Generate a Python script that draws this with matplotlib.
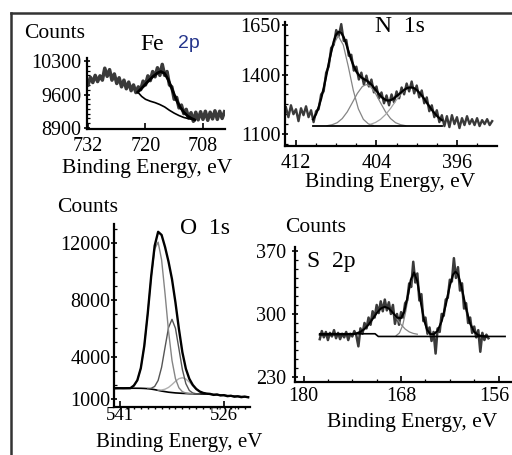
import matplotlib
matplotlib.use('Agg')
import matplotlib.pyplot as plt
from matplotlib.ticker import MultipleLocator
from matplotlib.lines import Line2D
from matplotlib.transforms import ScaledTranslation

plt.rcParams['font.family'] = ['Liberation Serif', 'DejaVu Serif']

# ---------------- Fe 2p ----------------
fe_ev = [732.0, 731.5, 731.0, 730.5, 730.0, 729.5, 729.0, 728.5, 728.0, 727.5,
         727.0, 726.5, 726.0, 725.5, 725.0, 724.5, 724.0, 723.5, 723.0, 722.5,
         722.0, 721.5, 721.0, 720.5, 720.0, 719.5, 719.0, 718.5, 718.0, 717.5,
         717.0, 716.5, 716.0, 715.5, 715.0, 714.5, 714.0, 713.5, 713.0, 712.5,
         712.0, 711.5, 711.0, 710.5, 710.0, 709.5, 709.0, 708.5, 708.0, 707.5,
         707.0, 706.5, 706.0, 705.5, 705.0, 704.5, 704.0, 703.5]
fe_counts = [9800, 9960, 9850, 10000, 9870, 9990, 9900, 10150, 9980, 10120,
             9900, 10030, 9830, 9950, 9760, 9900, 9720, 9860, 9680, 9800,
             9640, 9760, 9700, 9880, 9800, 9990, 9890, 10080, 9970, 10160,
             10000, 10230, 10000, 10080, 9800, 9760, 9500, 9540, 9320, 9380,
             9200, 9290, 9110, 9220, 9040, 9230, 9070, 9240, 9080, 9250,
             9060, 9230, 9090, 9260, 9080, 9250, 9100, 9240]
fe_fit_ev = [721.6, 720.5, 719.5, 718.5, 717.5, 716.8, 716.0, 715.2, 714.4,
             713.6, 712.8, 712.0, 711.2, 710.4, 709.7]
fe_fit = [9650, 9760, 9870, 9970, 10050, 10080, 10040, 9900, 9700,
          9500, 9340, 9230, 9150, 9100, 9070]
fe_bg_ev = [721.6, 720.8, 720.0, 719.0, 718.0, 717.0, 716.0, 715.0, 714.0,
            713.0, 712.0, 711.0, 710.0, 709.7]
fe_bg = [9650, 9560, 9500, 9460, 9430, 9390, 9340, 9270, 9210,
         9160, 9120, 9095, 9075, 9067]
fe_xticks = [732, 720, 708]
fe_yticks = [8900, 9600, 10300]

# ---------------- N 1s ----------------
n_ev = [413.0, 412.75, 412.5, 412.25, 412.0, 411.75, 411.5, 411.25, 411.0, 410.75,
        410.5, 410.25, 410.0, 409.75, 409.5, 409.25, 409.0, 408.75, 408.5, 408.25,
        408.0, 407.75, 407.5, 407.25, 407.0, 406.75, 406.5, 406.25, 406.0, 405.75,
        405.5, 405.25, 405.0, 404.75, 404.5, 404.25, 404.0, 403.75, 403.5, 403.25,
        403.0, 402.75, 402.5, 402.25, 402.0, 401.75, 401.5, 401.25, 401.0, 400.75,
        400.5, 400.25, 400.0, 399.75, 399.5, 399.25, 399.0, 398.75, 398.5, 398.25,
        398.0, 397.75, 397.5, 397.25, 397.0, 396.75, 396.5, 396.25, 396.0, 395.75,
        395.5, 395.25, 395.0, 394.75, 394.5, 394.25, 394.0, 393.75, 393.5, 393.25,
        393.0, 392.75, 392.5]
n_counts = [1235, 1185, 1245, 1200, 1225, 1165, 1230, 1195, 1240, 1185,
            1220, 1160, 1215, 1225, 1300, 1315, 1410, 1440, 1535, 1550,
            1625, 1595, 1655, 1570, 1575, 1495, 1500, 1420, 1440, 1375,
            1410, 1350, 1395, 1340, 1375, 1310, 1340, 1280, 1310, 1255,
            1295, 1245, 1300, 1260, 1315, 1280, 1335, 1300, 1355, 1315,
            1365, 1305, 1345, 1285, 1320, 1255, 1285, 1215, 1245, 1185,
            1220, 1160, 1195, 1140, 1190, 1135, 1195, 1150, 1185, 1130,
            1180, 1145, 1190, 1150, 1175, 1145, 1180, 1140, 1170, 1150,
            1175, 1145, 1165]
n_fit_ev = [410.3, 410.0, 409.75, 409.5, 409.25, 409.0, 408.75, 408.5, 408.25, 408.0,
            407.75, 407.5, 407.25, 407.0, 406.75, 406.5, 406.25, 406.0, 405.75, 405.5,
            405.25, 405.0, 404.75, 404.5, 404.25, 404.0, 403.75, 403.5, 403.25, 403.0,
            402.75, 402.5, 402.25, 402.0, 401.75, 401.5, 401.25, 401.0, 400.75, 400.5,
            400.25, 400.0, 399.75, 399.5, 399.25, 399.0, 398.75, 398.5, 398.25, 398.0,
            397.75, 397.5]
n_fit = [1174, 1201, 1235, 1278, 1331, 1391, 1455, 1514, 1567, 1603,
         1616, 1611, 1588, 1554, 1513, 1474, 1442, 1415, 1398, 1386,
         1377, 1371, 1361, 1349, 1334, 1318, 1302, 1287, 1277, 1270,
         1269, 1273, 1280, 1292, 1301, 1312, 1322, 1331, 1334, 1335,
         1331, 1322, 1309, 1294, 1277, 1258, 1240, 1222, 1206, 1192,
         1180, 1170]
n_c1_ev = [410.3, 409.8, 409.3, 408.8, 408.3, 407.8, 407.3, 406.8, 406.3, 405.8, 405.3, 404.8, 404.3]
n_c1 = [1174, 1227, 1320, 1441, 1550, 1595, 1550, 1441, 1320, 1227, 1174, 1151, 1143]
n_c2_ev = [408.9, 408.4, 407.9, 407.4, 406.9, 406.4, 405.9, 405.4, 405.0, 404.6, 404.1,
           403.6, 403.1, 402.6, 402.1, 401.6, 401.1]
n_c2 = [1142, 1147, 1157, 1178, 1212, 1258, 1305, 1340, 1350, 1340, 1305,
        1258, 1212, 1178, 1157, 1147, 1142]
n_c3_ev = [404.6, 404.1, 403.6, 403.1, 402.6, 402.1, 401.6, 401.1, 400.6, 400.1,
           399.6, 399.1, 398.6, 398.1, 397.5]
n_c3 = [1149, 1158, 1174, 1198, 1229, 1266, 1300, 1326, 1335, 1326,
        1300, 1266, 1229, 1198, 1170]
n_base_ev = [410.3, 397.5]
n_base = [1140, 1140]
n_xticks = [412, 404, 396]
n_yticks = [1100, 1400, 1650]

# ---------------- O 1s ----------------
o_ev = [541.9, 541.5, 541.0, 540.5, 540.0, 539.5, 539.0, 538.5, 538.0, 537.5,
        537.0, 536.5, 536.0, 535.5, 535.0, 534.5, 534.0, 533.5, 533.0, 532.5,
        532.0, 531.5, 531.0, 530.5, 530.0, 529.5, 529.0, 528.5, 528.0, 527.5,
        527.0, 526.5, 526.0, 525.5, 525.0, 524.5, 524.0, 523.5, 523.0, 522.5]
o_counts = [1755, 1760, 1762, 1758, 1762, 1765, 1950, 2325, 3175, 4745,
            7046, 9682, 11817, 12804, 12582, 11728, 10695, 9460, 7813, 5945,
            4297, 3140, 2427, 1992, 1708, 1529, 1429, 1380, 1360, 1290,
            1320, 1250, 1270, 1200, 1230, 1160, 1190, 1130, 1170, 1120]
o_bg_ev = [541.9, 539.0, 538.5, 538.0, 537.5, 537.0, 536.5, 536.0, 535.5, 535.0,
           534.5, 534.0, 533.5, 533.0, 532.5, 532.0, 531.5, 531.0, 530.5, 530.0,
           529.5, 529.0, 528.5, 527.0, 525.0, 522.5]
o_bg = [1755, 1760, 1758, 1755, 1745, 1730, 1700, 1660, 1610, 1560,
        1520, 1480, 1455, 1430, 1415, 1400, 1388, 1375, 1368, 1360,
        1356, 1352, 1350, 1300, 1215, 1140]
o_c1_ev = [539.0, 538.5, 538.0, 537.5, 537.0, 536.5, 536.0, 535.5, 535.0, 534.5,
           534.0, 533.5, 533.0, 532.5, 532.0, 531.5, 531.0, 530.5]
o_c1 = [1950, 2325, 3175, 4745, 7045, 9625, 11590, 12075, 10825, 8420,
        5798, 3725, 2435, 1788, 1517, 1418, 1382, 1370]
o_c2_ev = [537.0, 536.5, 536.0, 535.5, 535.0, 534.5, 534.0, 533.5, 533.0, 532.5,
           532.0, 531.5, 531.0, 530.5, 530.0, 529.5]
o_c2 = [1741, 1757, 1887, 2310, 3240, 4655, 6040, 6625, 5990, 4550,
        3080, 2088, 1602, 1425, 1371, 1358]
o_c3_ev = [535.5, 535.0, 534.5, 534.0, 533.5, 533.0, 532.5, 532.0, 531.5, 531.0,
           530.5, 530.0, 529.5, 529.0, 528.5]
o_c3 = [1639, 1637, 1693, 1817, 2020, 2248, 2437, 2500, 2410, 2193,
        1933, 1697, 1529, 1429, 1380]
o_xticks = [541, 526]
o_yticks = [1000, 4000, 8000, 12000]

# ---------------- S 2p ----------------
s_ev = [178.0, 177.75, 177.5, 177.25, 177.0, 176.75, 176.5, 176.25, 176.0, 175.75,
        175.5, 175.25, 175.0, 174.75, 174.5, 174.25, 174.0, 173.75, 173.5, 173.25,
        173.0, 172.75, 172.5, 172.25, 172.0, 171.75, 171.5, 171.25, 171.0, 170.75,
        170.5, 170.25, 170.0, 169.75, 169.5, 169.25, 169.0, 168.75, 168.5, 168.25,
        168.0, 167.75, 167.5, 167.25, 167.0, 166.75, 166.5, 166.25, 166.0, 165.75,
        165.5, 165.25, 165.0, 164.75, 164.5, 164.25, 164.0, 163.75, 163.5, 163.25,
        163.0, 162.75, 162.5, 162.25, 162.0, 161.75, 161.5, 161.25, 161.0, 160.75,
        160.5, 160.25, 160.0, 159.75, 159.5, 159.25, 159.0, 158.75, 158.5, 158.25,
        158.0, 157.75, 157.5, 157.25]
s_counts = [272, 281, 274, 280, 271, 279, 275, 282, 273, 279,
            272, 278, 274, 280, 271, 278, 275, 281, 276, 264,
            284, 278, 290, 284, 296, 288, 303, 296, 310, 301,
            314, 303, 316, 304, 313, 300, 310, 289, 300, 288,
            302, 296, 312, 315, 334, 330, 358, 335, 345, 315,
            322, 292, 296, 278, 285, 270, 280, 256, 284, 280,
            300, 298, 316, 318, 338, 336, 362, 340, 352, 326,
            334, 306, 312, 290, 296, 279, 286, 274, 282, 258,
            279, 271, 277, 273]
s_fit_ev = [178.0, 174.0, 173.5, 173.0, 172.5, 172.0, 171.5, 171.0, 170.5, 170.0,
            169.5, 169.0, 168.5, 168.0, 167.6, 167.2, 166.8, 166.4, 166.0, 165.6,
            165.2, 164.8, 164.4, 164.0, 163.5, 163.0, 162.5, 162.0, 161.6, 161.3,
            161.0, 160.6, 160.0, 159.5, 159.0, 158.5, 158.0, 157.5]
s_fit = [277, 277.5, 278.4, 280.1, 283.3, 288.2, 294.5, 301, 306.1, 308,
         306.1, 301.2, 295.9, 295.4, 302.6, 318.8, 338, 346.1, 336.2, 314.6,
         294.5, 282.4, 277.6, 277.3, 281.4, 292, 310, 331.4, 343.8, 347,
         343.8, 331.4, 306, 289.3, 280.1, 276.4, 275.3, 275]
s_ca_ev = [173.5, 173.0, 172.5, 172.0, 171.5, 171.0, 170.5, 170.0, 169.5, 169.0,
           168.5, 168.0, 167.5, 167.0, 166.5, 166.0]
s_ca = [278.4, 280.1, 283.3, 288.2, 294.5, 301, 306.1, 308, 306.1, 301,
        294.5, 288.2, 283.3, 280.1, 278.4, 277.5]
s_cb_ev = [168.6, 168.2, 167.8, 167.4, 167.0, 166.6, 166.4, 166.2, 165.8, 165.4, 165.0, 164.6, 164.2]
s_cb = [275.9, 278.9, 287.3, 303.8, 325.8, 342.5, 345, 342.5, 325.8, 303.8, 287.3, 278.9, 275.9]
s_cc_ev = [164.3, 163.8, 163.3, 162.8, 162.3, 161.8, 161.3, 160.8, 160.3, 159.8, 159.3, 158.8, 158.3]
s_cc = [275.8, 278.2, 284.7, 298.4, 318.7, 338.5, 347, 338.5, 318.7, 298.4, 284.7, 278.2, 275.8]
s_base_ev = [178.0, 171.2, 170.8, 155.2]
s_base = [278, 278, 275, 275]
s_xticks = [180, 168, 156]
s_yticks = [230, 300, 370]

# ---------------- figure ----------------
W, H = 512, 455
fig = plt.figure(figsize=(W / 100, H / 100), dpi=100)


def rect(x0, y0, x1, y1):
    return [x0 / W, 1 - y1 / H, (x1 - x0) / W, (y1 - y0) / H]


def ftext(x, y, s, **kw):
    fig.text(x / W, 1 - y / H, s, ha=kw.pop('ha', 'center'), va=kw.pop('va', 'center'), **kw)


def style(ax, xlim, ylim, xt, yt, xmin, ymin, xpad, ypad, xdir='in', xsize=14.5):
    ax.set_xlim(*xlim)
    ax.set_ylim(*ylim)
    ax.patch.set_alpha(0)
    for s in ['top', 'right']:
        ax.spines[s].set_visible(False)
    for s in ['left', 'bottom']:
        ax.spines[s].set_linewidth(1.6)
    ax.set_xticks(xt)
    ax.set_xticklabels([str(v) for v in xt])
    ax.set_yticks(yt)
    ax.set_yticklabels([str(v) for v in yt])
    if xmin:
        ax.xaxis.set_minor_locator(MultipleLocator(xmin))
    if ymin:
        ax.yaxis.set_minor_locator(MultipleLocator(ymin))
    ax.tick_params(axis='x', which='major', direction=xdir, length=4, width=1.2,
                   labelsize=xsize, pad=xpad)
    ax.tick_params(axis='x', which='minor', direction=xdir, length=2.5, width=0.9)
    ax.tick_params(axis='y', which='major', direction='inout', length=5, width=1.2,
                   labelsize=14.5, pad=ypad)
    ax.tick_params(axis='y', which='minor', direction='in', length=2.5, width=0.9)


DATA = '#3a3a3a'
COMP = '#858585'

# Fe
ax = fig.add_axes(rect(87, 58, 225, 129))
ax.plot(fe_ev, fe_counts, color=DATA, lw=2.5)
ax.plot(fe_bg_ev, fe_bg, color='black', lw=1.2)
ax.plot(fe_fit_ev, fe_fit, color='black', lw=2.0)
style(ax, (732.21, 703.4), (8879, 10363), fe_xticks, fe_yticks, None, 100, 5.5, 1.5)

# N
ax = fig.add_axes(rect(285, 22, 497, 146))
ax.plot(n_ev, n_counts, color=DATA, lw=1.7)
ax.plot(n_c1_ev, n_c1, color=COMP, lw=0.9)
ax.plot(n_c2_ev, n_c2, color=COMP, lw=0.9)
ax.plot(n_c3_ev, n_c3, color='#a5a5a5', lw=0.9)
ax.plot(n_fit_ev, n_fit, color='black', lw=1.6)
ax.plot(n_base_ev, n_base, color='black', lw=1.3)
style(ax, (413.09, 392.02), (1039.4, 1665.6), n_xticks, n_yticks, 2, 50, 5.5, 0.5)

# O
ax = fig.add_axes(rect(114, 224, 250, 407))
ax.plot(o_bg_ev, o_bg, color='black', lw=1.2)
ax.plot(o_c3_ev, o_c3, color='#b0b0b0', lw=1.0)
ax.plot(o_c2_ev, o_c2, color='#555555', lw=1.0)
ax.plot(o_c1_ev, o_c1, color=COMP, lw=1.0)
ax.plot(o_ev, o_counts, color='black', lw=1.7)
style(ax, (541.87, 522.24), (435, 13355), o_xticks, o_yticks, 1, 1000, 0.0, 0.0,
      xdir='in', xsize=13.5)
ax.tick_params(axis='x', which='minor', direction='out', length=1.5, width=1.0)

# S
ax = fig.add_axes(rect(295, 247, 512, 382))
ax.plot(s_ev, s_counts, color=DATA, lw=1.8)
ax.plot(s_ca_ev, s_ca, color=COMP, lw=0.9)
ax.plot(s_cb_ev, s_cb, color=COMP, lw=0.9)
ax.plot(s_cc_ev, s_cc, color=COMP, lw=0.9)
ax.plot(s_fit_ev, s_fit, color='black', lw=1.5)
ax.plot(s_base_ev, s_base, color='black', lw=1.2)
style(ax, (181.05, 154.35), (224.4, 374.4), s_xticks, s_yticks, 3, 10, 3.5, 4.0)
for lab in ax.get_xticklabels():
    if lab.get_text() == '156':
        lab.set_transform(lab.get_transform() + ScaledTranslation(-3 / 72, 0, fig.dpi_scale_trans))

# texts
LAB = 15.5
ftext(55, 34, 'Counts', fontsize=LAB)
ftext(88, 208, 'Counts', fontsize=LAB)
ftext(316, 227, 'Counts', fontsize=LAB)
ftext(147, 168, 'Binding Energy, eV', fontsize=LAB)
ftext(390, 183, 'Binding Energy, eV', fontsize=LAB)
ftext(179, 442, 'Binding Energy, eV', fontsize=15)
ftext(412, 422, 'Binding Energy, eV', fontsize=LAB)
ftext(152, 45, 'Fe', fontsize=17)
ftext(189, 43, '2p', fontsize=14, color='#26368c', family=['Liberation Sans', 'DejaVu Sans'])
ftext(400, 27, 'N  1s', fontsize=17)
ftext(205, 228, 'O  1s', fontsize=17)
ftext(307, 262, 'S  2p', fontsize=17, ha='left')

# outer frame
fig.add_artist(Line2D([10.5 / W, 10.5 / W], [0, 1 - 12.5 / H], transform=fig.transFigure,
                      color='#333333', lw=1.8))
fig.add_artist(Line2D([10.5 / W, 1], [1 - 12.5 / H, 1 - 12.5 / H], transform=fig.transFigure,
                      color='#333333', lw=1.8))

fig.savefig('out.png', dpi=100)
